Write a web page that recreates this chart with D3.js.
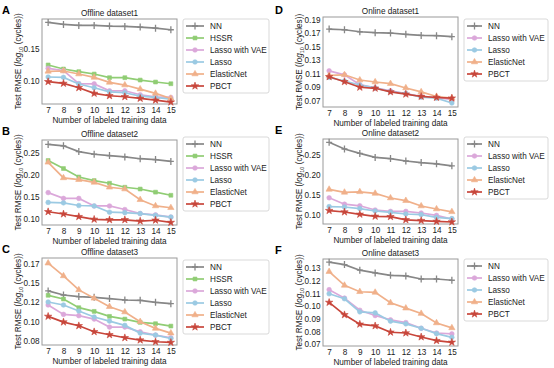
<!DOCTYPE html>
<html>
<head>
<meta charset="utf-8">
<script src="https://cdn.jsdelivr.net/npm/d3@7"></script>
<style>
  body { margin: 0; background: #fff; }
  svg { font-family: "Liberation Sans", Arial, sans-serif; }
</style>
</head>
<body>
<div id="chart"></div>
<script>
var width = 554;
var height = 368;

// x values shared by every panel
var xValues = [7, 8, 9, 10, 11, 12, 13, 14, 15];

// Offline dataset1
var off1NN      = [0.1926, 0.1894, 0.1878, 0.1878, 0.1867, 0.1862, 0.1851, 0.1835, 0.1809];
var off1HSSR    = [0.125, 0.1186, 0.1144, 0.1106, 0.1048, 0.1048, 0.101, 0.0979, 0.0952];
var off1VAE     = [0.1197, 0.116, 0.0955, 0.095, 0.084, 0.084, 0.0777, 0.0745, 0.0734];
var off1Lasso   = [0.1059, 0.1053, 0.0947, 0.0888, 0.0824, 0.0809, 0.0755, 0.0734, 0.0707];
var off1Elastic = [0.1149, 0.1154, 0.1106, 0.1053, 0.0973, 0.0931, 0.0867, 0.0798, 0.0718];
var off1PBCT    = [0.0984, 0.0957, 0.0888, 0.0798, 0.0761, 0.0745, 0.0718, 0.0691, 0.066];

// Offline dataset2
var off2NN      = [0.268, 0.265, 0.252, 0.246, 0.243, 0.240, 0.236, 0.234, 0.230];
var off2HSSR    = [0.232, 0.214, 0.195, 0.187, 0.181, 0.172, 0.168, 0.161, 0.154];
var off2VAE     = [0.160, 0.147, 0.147, 0.130, 0.130, 0.122, 0.113, 0.110, 0.105];
var off2Lasso   = [0.138, 0.137, 0.131, 0.130, 0.116, 0.115, 0.113, 0.109, 0.105];
var off2Elastic = [0.228, 0.193, 0.189, 0.183, 0.172, 0.168, 0.144, 0.130, 0.126];
var off2PBCT    = [0.117, 0.112, 0.106, 0.100, 0.099, 0.099, 0.096, 0.098, 0.093];

// Offline dataset3
var off3NN      = [0.1396, 0.1343, 0.1322, 0.1313, 0.1296, 0.1278, 0.1274, 0.1248, 0.123];
var off3HSSR    = [0.1339, 0.1291, 0.1178, 0.113, 0.1065, 0.103, 0.0987, 0.097, 0.0939];
var off3VAE     = [0.1213, 0.1091, 0.1074, 0.103, 0.0926, 0.0926, 0.0865, 0.0822, 0.0787];
var off3Lasso   = [0.1252, 0.1213, 0.1135, 0.1057, 0.1004, 0.0948, 0.0848, 0.0822, 0.0778];
var off3Elastic = [0.1757, 0.1591, 0.1409, 0.130, 0.1191, 0.1122, 0.0996, 0.0909, 0.0848];
var off3PBCT    = [0.1065, 0.0991, 0.0943, 0.0865, 0.0826, 0.0787, 0.0757, 0.0735, 0.0726];

// Online dataset1
var on1NN      = [0.1764, 0.1754, 0.1724, 0.171, 0.1705, 0.1685, 0.167, 0.1666, 0.1651];
var on1VAE     = [0.1141, 0.1082, 0.0935, 0.0886, 0.0842, 0.0803, 0.0759, 0.0744, 0.071];
var on1Lasso   = [0.1043, 0.0989, 0.093, 0.0886, 0.0832, 0.0803, 0.0749, 0.0734, 0.0661];
var on1Elastic = [0.1073, 0.1082, 0.1004, 0.0975, 0.095, 0.0886, 0.0827, 0.0759, 0.0734];
var on1PBCT    = [0.1053, 0.0979, 0.0896, 0.0881, 0.0827, 0.0793, 0.0759, 0.0744, 0.0734];

// Online dataset2
var on2NN      = [0.2817, 0.265, 0.254, 0.244, 0.241, 0.235, 0.231, 0.228, 0.223];
var on2VAE     = [0.143, 0.127, 0.123, 0.1125, 0.109, 0.109, 0.105, 0.099, 0.090];
var on2Lasso   = [0.121, 0.120, 0.116, 0.110, 0.1067, 0.1025, 0.101, 0.094, 0.091];
var on2Elastic = [0.164, 0.1567, 0.158, 0.154, 0.1425, 0.136, 0.1225, 0.115, 0.108];
var on2PBCT    = [0.111, 0.1075, 0.1017, 0.0967, 0.0958, 0.088, 0.086, 0.084, 0.0825];

// Online dataset3
var on3NN      = [0.1345, 0.1326, 0.1282, 0.1261, 0.1242, 0.1237, 0.1213, 0.1213, 0.1203];
var on3VAE     = [0.1129, 0.1063, 0.0968, 0.0926, 0.0892, 0.0871, 0.0826, 0.0789, 0.0782];
var on3Lasso   = [0.1097, 0.1058, 0.0955, 0.0947, 0.0882, 0.0861, 0.0826, 0.0784, 0.0755];
var on3Elastic = [0.1271, 0.1163, 0.1113, 0.1108, 0.1026, 0.0984, 0.0942, 0.0868, 0.0829];
var on3PBCT    = [0.1029, 0.0932, 0.0858, 0.0845, 0.0795, 0.0789, 0.0758, 0.0729, 0.0716];

// y tick values and labels
var ticksA = [0.10, 0.15];
var labelsA = ["0.10", "0.15"];
var ticksB = [0.10, 0.15, 0.20, 0.25];
var labelsB = ["0.10", "0.15", "0.20", "0.25"];
var ticksC = [0.075, 0.10, 0.125, 0.15, 0.175];
var labelsC = ["0.08", "0.10", "0.12", "0.15", "0.17"];
var ticksD = [0.07, 0.09, 0.11, 0.13, 0.15, 0.17, 0.19];
var labelsD = ["0.07", "0.09", "0.11", "0.13", "0.15", "0.17", "0.19"];
var ticksE = [0.10, 0.15, 0.20, 0.25];
var labelsE = ["0.10", "0.15", "0.20", "0.25"];
var ticksF = [0.07, 0.08, 0.09, 0.10, 0.11, 0.12, 0.13];
var labelsF = ["0.07", "0.08", "0.09", "0.10", "0.11", "0.12", "0.13"];

var styles = {
  "NN":             {color: "#878787", marker: "plus"},
  "HSSR":           {color: "#90cd74", marker: "square"},
  "Lasso with VAE": {color: "#dba8da", marker: "circle"},
  "Lasso":          {color: "#9bcae3", marker: "circle"},
  "ElasticNet":     {color: "#f0b08a", marker: "triangle"},
  "PBCT":           {color: "#c8463b", marker: "star"}
};

var panels = [
  {letter: "A", title: "Offline dataset1", x0: 42, x1: 177, y0: 19, y1: 104, ymin: 0.063, ymax: 0.198,
   ticks: ticksA, tickLabels: labelsA, legendY: 19,
   series: [["NN", off1NN], ["HSSR", off1HSSR], ["Lasso with VAE", off1VAE], ["Lasso", off1Lasso], ["ElasticNet", off1Elastic], ["PBCT", off1PBCT]]},
  {letter: "B", title: "Offline dataset2", x0: 42, x1: 177, y0: 140, y1: 225, ymin: 0.0873, ymax: 0.278,
   ticks: ticksB, tickLabels: labelsB, legendY: 137,
   series: [["NN", off2NN], ["HSSR", off2HSSR], ["Lasso with VAE", off2VAE], ["Lasso", off2Lasso], ["ElasticNet", off2Elastic], ["PBCT", off2PBCT]]},
  {letter: "C", title: "Offline dataset3", x0: 42, x1: 177, y0: 258, y1: 345, ymin: 0.0693, ymax: 0.1824,
   ticks: ticksC, tickLabels: labelsC, legendY: 260,
   series: [["NN", off3NN], ["HSSR", off3HSSR], ["Lasso with VAE", off3VAE], ["Lasso", off3Lasso], ["ElasticNet", off3Elastic], ["PBCT", off3PBCT]]},
  {letter: "D", title: "Online dataset1", x0: 323, x1: 458, y0: 17, y1: 107, ymin: 0.0602, ymax: 0.1944,
   ticks: ticksD, tickLabels: labelsD, legendY: 19,
   series: [["NN", on1NN], ["Lasso with VAE", on1VAE], ["Lasso", on1Lasso], ["ElasticNet", on1Elastic], ["PBCT", on1PBCT]]},
  {letter: "E", title: "Online dataset2", x0: 323, x1: 458, y0: 139, y1: 224, ymin: 0.0775, ymax: 0.29,
   ticks: ticksE, tickLabels: labelsE, legendY: 137,
   series: [["NN", on2NN], ["Lasso with VAE", on2VAE], ["Lasso", on2Lasso], ["ElasticNet", on2Elastic], ["PBCT", on2PBCT]]},
  {letter: "F", title: "Online dataset3", x0: 323, x1: 458, y0: 259, y1: 346, ymin: 0.0687, ymax: 0.137,
   ticks: ticksF, tickLabels: labelsF, legendY: 259,
   series: [["NN", on3NN], ["Lasso with VAE", on3VAE], ["Lasso", on3Lasso], ["ElasticNet", on3Elastic], ["PBCT", on3PBCT]]}
];

var svg = d3.select("#chart")
  .append("svg")
  .attr("width", width)
  .attr("height", height);

var fs = 8.2;

function drawMarker(g, type, color, x, y) {
  if (type == "plus") {
    g.append("path")
      .attr("d", "M" + (x - 3) + "," + y + "H" + (x + 3) + "M" + x + "," + (y - 3.5) + "V" + (y + 3.5))
      .attr("stroke", color).attr("stroke-width", 1.3).attr("fill", "none");
    return;
  }
  var sym = {square: d3.symbolSquare, circle: d3.symbolCircle, triangle: d3.symbolTriangle, star: d3.symbolStar}[type];
  var size = {square: 15, circle: 17, triangle: 17, star: 17}[type];
  g.append("path")
    .attr("d", d3.symbol().type(sym).size(size)())
    .attr("transform", "translate(" + x + "," + y + ")")
    .attr("fill", color)
    .attr("stroke", color)
    .attr("stroke-width", 0.6);
}

panels.forEach(function(p) {
  var g = svg.append("g");
  var left = p.x0 < 200;
  var xScale = d3.scaleLinear().domain([6.6, 15.4]).range([p.x0, p.x1]);
  var yScale = d3.scaleLinear().domain([p.ymin, p.ymax]).range([p.y1, p.y0]);

  // frame
  g.append("rect")
    .attr("x", p.x0).attr("y", p.y0)
    .attr("width", p.x1 - p.x0).attr("height", p.y1 - p.y0)
    .attr("fill", "none").attr("stroke", "#9a9a9a").attr("stroke-width", 1);

  // axes (no tick lines, only labels)
  var xAxis = d3.axisBottom(xScale).tickValues(xValues).tickSize(0).tickPadding(3).tickFormat(d3.format("d"));
  g.append("g")
    .attr("transform", "translate(0," + p.y1 + ")")
    .call(xAxis)
    .call(function(a) { a.select(".domain").remove(); })
    .selectAll("text").attr("font-size", fs).attr("fill", "#1a1a1a").attr("font-family", null);

  var yAxis = d3.axisLeft(yScale).tickValues(p.ticks).tickSize(0).tickPadding(2.5)
    .tickFormat(function(d, i) { return p.tickLabels[i]; });
  g.append("g")
    .attr("transform", "translate(" + p.x0 + ",0)")
    .call(yAxis)
    .call(function(a) { a.select(".domain").remove(); })
    .selectAll("text").attr("font-size", fs).attr("fill", "#1a1a1a").attr("font-family", null);

  // title
  g.append("text")
    .attr("x", (p.x0 + p.x1) / 2).attr("y", p.y0 - 3)
    .attr("text-anchor", "middle").attr("font-size", fs).attr("fill", "#1a1a1a")
    .text(p.title);

  // x label
  g.append("text")
    .attr("x", (p.x0 + p.x1) / 2).attr("y", p.y1 + 19)
    .attr("text-anchor", "middle").attr("font-size", fs).attr("fill", "#1a1a1a")
    .text("Number of labeled training data");

  // y label
  var yl = g.append("text")
    .attr("transform", "translate(" + (p.x0 - 23.5) + "," + ((p.y0 + p.y1) / 2) + ") rotate(-90)")
    .attr("text-anchor", "middle").attr("dy", "0.35em").attr("font-size", fs).attr("fill", "#1a1a1a");
  yl.append("tspan").text("Test RMSE (");
  yl.append("tspan").attr("font-style", "italic").text("log");
  yl.append("tspan").attr("font-size", 5.5).attr("dy", 2).text("10");
  yl.append("tspan").attr("dy", -2).text(" (cycles))");

  // panel letter
  g.append("text")
    .attr("x", left ? 2 : 275).attr("y", p.letter == "A" || p.letter == "D" ? 14 : p.y0 - 5)
    .attr("font-size", 11).attr("font-weight", "bold").attr("fill", "#000")
    .text(p.letter);

  // series
  var line = d3.line()
    .x(function(d, i) { return xScale(xValues[i]); })
    .y(function(d) { return yScale(d); });

  p.series.forEach(function(s) {
    var st = styles[s[0]];
    g.append("path")
      .datum(s[1])
      .attr("d", line)
      .attr("fill", "none")
      .attr("stroke", st.color)
      .attr("stroke-width", 1.7);
    s[1].forEach(function(v, i) {
      drawMarker(g, st.marker, st.color, xScale(xValues[i]), yScale(v));
    });
  });

  // legend
  var lx = left ? 183 : 464;
  var lw = left ? 86 : 84;
  var lineEnd = left ? 21 : 18;
  var textX = left ? 27 : 24;
  var n = p.series.length;
  var lg = g.append("g");
  lg.append("rect")
    .attr("x", lx).attr("y", p.legendY)
    .attr("width", lw).attr("height", n * 12 + 2)
    .attr("rx", 2)
    .attr("fill", "#fff").attr("stroke", "#cfcfcf").attr("stroke-width", 0.8);
  p.series.forEach(function(s, i) {
    var st = styles[s[0]];
    var ry = p.legendY + 7 + i * 12;
    lg.append("line")
      .attr("x1", lx + 3).attr("x2", lx + lineEnd)
      .attr("y1", ry).attr("y2", ry)
      .attr("stroke", st.color).attr("stroke-width", 1.7);
    drawMarker(lg, st.marker, st.color, lx + (3 + lineEnd) / 2, ry);
    lg.append("text")
      .attr("x", lx + textX).attr("y", ry + 3)
      .attr("font-size", fs).attr("fill", "#1a1a1a")
      .text(s[0]);
  });
});
</script>
</body>
</html>
